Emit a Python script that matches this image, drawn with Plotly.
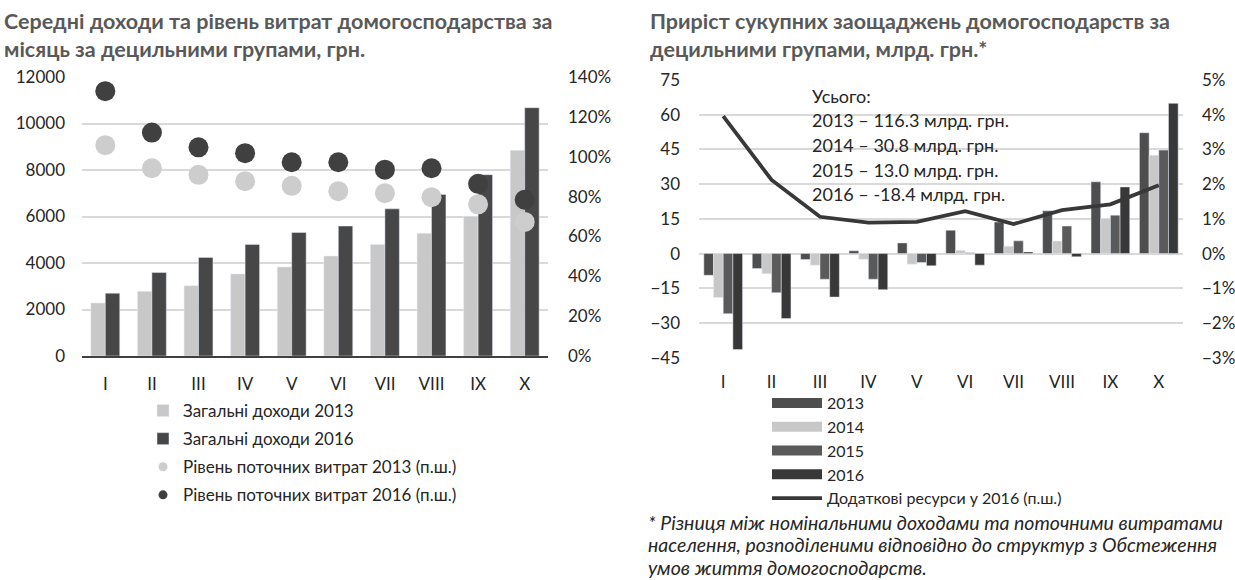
import plotly.graph_objects as go

W, H = 1235, 580

# ---------------- data ----------------
deciles = ["I", "II", "III", "IV", "V", "VI", "VII", "VIII", "IX", "X"]

income_2013 = [2280, 2780, 3020, 3530, 3830, 4300, 4800, 5280, 6010, 8850]
income_2016 = [2700, 3590, 4240, 4800, 5310, 5590, 6330, 6950, 7800, 10680]
spend_2013 = [105.8, 94.2, 90.9, 87.7, 85.4, 82.7, 81.7, 79.7, 76.1, 67.3]
spend_2016 = [132.9, 112.1, 104.7, 101.8, 97.2, 97.2, 93.5, 94.2, 86.4, 78.4]

sav_2013 = [-9.4, -6.5, -2.6, 1.2, 4.6, 10.1, 13.6, 18.5, 31.0, 52.2]
sav_2014 = [-19.0, -8.7, -5.0, -2.5, -4.6, 1.4, 3.2, 5.4, 15.1, 42.5]
sav_2015 = [-26.0, -16.9, -11.1, -11.1, -3.9, 0.3, 5.5, 11.9, 16.6, 44.7]
sav_2016 = [-41.5, -28.1, -18.8, -15.6, -5.3, -5.0, 0.7, -1.4, 28.8, 64.9]
extra_res_2016 = [3.96, 2.12, 1.06, 0.89, 0.91, 1.22, 0.85, 1.25, 1.42, 1.97]

totals_lines = ["Усього:",
                "2013 – 116.3 млрд. грн.",
                "2014 – 30.8 млрд. грн.",
                "2015 – 13.0 млрд. грн.",
                "2016 – -18.4 млрд. грн."]

left_title = ["Середні доходи та рівень витрат домогосподарства за",
              "місяць за децильними групами, грн."]
right_title = ["Приріст сукупних заощаджень домогосподарств за",
               "децильними групами, млрд. грн.*"]
footnote = ["* Різниця між номінальними доходами та поточними витратами",
            "населення, розподіленими відповідно до структур з Обстеження",
            "умов життя домогосподарств."]

# ---------------- helpers ----------------
def px(x):
    return x / W


def py(y):
    return 1 - y / H


FONT = "Lato"
TXT = "#262626"
GRID = "#d9d9d9"

c_light = "#c8c8c8"
c_dark = "#474747"
c_dot_light = "#cdcdcd"
c_dot_dark = "#404040"
c13, c14, c15, c16 = "#4e4e4e", "#c8c8c8", "#5a5a5a", "#383838"

fig = go.Figure()

# ---- left chart ----
fig.add_trace(go.Bar(x=deciles, y=income_2013, marker_color=c_light, width=0.31, offset=-0.31,
                     xaxis="x", yaxis="y", name="Загальні доходи 2013", legend="legend",
                     legendgroup="a"))
fig.add_trace(go.Bar(x=deciles, y=income_2016, marker_color=c_dark, width=0.31, offset=0,
                     xaxis="x", yaxis="y", name="Загальні доходи 2016", legend="legend",
                     legendgroup="b"))
fig.add_trace(go.Scatter(x=deciles, y=spend_2013, mode="markers",
                         marker=dict(size=20, color=c_dot_light), xaxis="x", yaxis="y2",
                         showlegend=False))
fig.add_trace(go.Scatter(x=deciles, y=spend_2016, mode="markers",
                         marker=dict(size=20, color=c_dot_dark), xaxis="x", yaxis="y2",
                         showlegend=False))
fig.add_trace(go.Scatter(x=[None], y=[None], mode="markers", marker=dict(size=9, color=c_dot_light),
                         xaxis="x", yaxis="y2", name="Рівень поточних витрат 2013 (п.ш.)",
                         legend="legend", legendgroup="c"))
fig.add_trace(go.Scatter(x=[None], y=[None], mode="markers", marker=dict(size=9, color=c_dot_dark),
                         xaxis="x", yaxis="y2", name="Рівень поточних витрат 2016 (п.ш.)",
                         legend="legend", legendgroup="d"))

# ---- right chart ----
for vals, col, off, nm in [(sav_2013, c13, -0.4, "2013"), (sav_2014, c14, -0.2, "2014"),
                           (sav_2015, c15, 0.0, "2015"), (sav_2016, c16, 0.2, "2016")]:
    fig.add_trace(go.Bar(x=deciles, y=vals, marker_color=col, width=0.2, offset=off,
                         xaxis="x2", yaxis="y3", showlegend=False))
    fig.add_trace(go.Scatter(x=[None], y=[None], mode="lines", line=dict(color=col, width=10),
                             xaxis="x2", yaxis="y3", name=nm, legend="legend2"))
fig.add_trace(go.Scatter(x=deciles, y=extra_res_2016, mode="lines", line=dict(color="#383838", width=3.8),
                         xaxis="x2", yaxis="y4", name="Додаткові ресурси у 2016 (п.ш.)", legend="legend2"))

# zero-line axis position
yd_r = [py(357.7), py(80)]
zero_pos = yd_r[0] + (0 - (-45)) / (75 - (-45)) * (yd_r[1] - yd_r[0])

tickfont = dict(family=FONT, size=17, color=TXT)

fig.update_layout(
    width=W, height=H,
    margin=dict(l=0, r=0, t=0, b=0, autoexpand=False),
    paper_bgcolor="white", plot_bgcolor="white",
    barmode="overlay",
    font=dict(family=FONT, size=17, color=TXT),
    xaxis=dict(domain=[px(82), px(548)], anchor="y", type="category", range=[-0.5, 9.5],
               showline=True, linecolor="#404040", linewidth=1.5, ticks="",
               showgrid=False, tickfont=tickfont, ticklabelstandoff=12),
    yaxis=dict(domain=[py(356), py(77)], anchor="x", range=[0, 12000], dtick=2000,
               tickformat="d",
               showgrid=True, gridcolor=GRID, gridwidth=1.5, zeroline=False,
               tickfont=tickfont, ticklabelstandoff=16),
    yaxis2=dict(overlaying="y", side="right", anchor="x", range=[0, 140], dtick=20,
                ticksuffix="%", showgrid=False, zeroline=False,
                tickfont=tickfont, ticklabelstandoff=19),
    xaxis2=dict(domain=[px(699), px(1183)], anchor="y3", type="category", range=[-0.5, 9.5],
                showline=False, ticks="", showgrid=False, tickfont=tickfont,
                ticklabelstandoff=12),
    yaxis3=dict(domain=yd_r, anchor="x2", range=[-45, 75], dtick=15,
                showgrid=True, gridcolor=GRID, gridwidth=1.5, zeroline=False,
                tickfont=tickfont, ticklabelstandoff=18),
    yaxis4=dict(overlaying="y3", side="right", anchor="x2", range=[-3, 5], dtick=1,
                ticksuffix="%", showgrid=False, zeroline=False,
                tickfont=tickfont, ticklabelstandoff=18),
    xaxis3=dict(domain=[px(699), px(1183)], anchor="free", position=zero_pos,
                overlaying="x2", range=[-0.5, 9.5], tickvals=[i - 0.5 for i in range(11)],
                showticklabels=False, ticks="outside", ticklen=6, tickwidth=1.5,
                tickcolor="#404040", showline=True, linecolor="#404040", linewidth=1.5,
                showgrid=False, zeroline=False),
    legend=dict(x=px(143), y=py(393), xanchor="left", yanchor="top",
                font=dict(family=FONT, size=17, color=TXT), tracegroupgap=3,
                bgcolor="rgba(0,0,0,0)", traceorder="grouped"),
    legend2=dict(x=px(767), y=py(386), xanchor="left", yanchor="top", itemwidth=50,
                 font=dict(family=FONT, size=16, color=TXT), tracegroupgap=0,
                 bgcolor="rgba(0,0,0,0)", traceorder="normal"),
)

ann = []
ann.append(dict(text="<br>".join(f"<b>{t}</b>" for t in left_title), x=px(2), y=py(35),
                xref="paper", yref="paper", xanchor="left", yanchor="middle", align="left",
                showarrow=False, font=dict(family=FONT, size=21.5, color="#595959")))
ann.append(dict(text="<br>".join(f"<b>{t}</b>" for t in right_title), x=px(648), y=py(35),
                xref="paper", yref="paper", xanchor="left", yanchor="middle", align="left",
                showarrow=False, font=dict(family=FONT, size=21.5, color="#595959")))
for i, t in enumerate(totals_lines):
    ann.append(dict(text=t, x=px(810), y=py(96 + 24.5 * i), xref="paper", yref="paper",
                    xanchor="left", yanchor="middle", showarrow=False,
                    font=dict(family=FONT, size=18, color=TXT)))
for i, t in enumerate(footnote):
    ann.append(dict(text=f"<i>{t}</i>", x=px(646), y=py(522 + 22.5 * i), xref="paper", yref="paper",
                    xanchor="left", yanchor="middle", showarrow=False,
                    font=dict(family=FONT, size=19.5, color=TXT)))
fig.update_layout(annotations=ann)

fig.write_html("out.html", config={"displayModeBar": False},
               post_script="document.body.style.margin='0';document.body.style.padding='0';")
